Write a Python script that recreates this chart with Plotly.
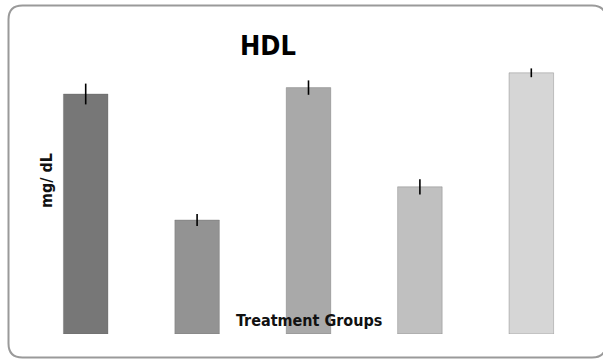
import plotly.graph_objects as go

groups = ["Group 1", "Group 2", "Group 3", "Group 4", "Group 5"]
hdl_values = [60.0, 28.5, 61.6, 36.8, 65.3]
hdl_errors = [2.6, 1.5, 1.8, 1.9, 1.1]
bar_colors = ["#777777", "#939393", "#a9a9a9", "#c0c0c0", "#d6d6d6"]

W, H = 603, 360
L, R, T, B = 30, 16, 60, 26
pw, ph = W - L - R, H - T - B

def px(x):
    return (x - L) / pw

def py(y):
    return (H - B - y) / ph

fig = go.Figure()
fig.add_trace(go.Bar(
    x=groups, y=hdl_values,
    marker=dict(color=bar_colors, line=dict(color="rgba(90,90,90,0.3)", width=1)),
    error_y=dict(type="data", array=hdl_errors, color="black", thickness=1.6, width=0),
    width=0.4,
))

# rounded border
x0, x1, y0, y1, r = 8.5, 606, 5.5, 357.5, 14
path = (
    f"M {px(x0+r)},{py(y0)} L {px(x1-r)},{py(y0)} Q {px(x1)},{py(y0)} {px(x1)},{py(y0+r)} "
    f"L {px(x1)},{py(y1-r)} Q {px(x1)},{py(y1)} {px(x1-r)},{py(y1)} "
    f"L {px(x0+r)},{py(y1)} Q {px(x0)},{py(y1)} {px(x0)},{py(y1-r)} "
    f"L {px(x0)},{py(y0+r)} Q {px(x0)},{py(y0)} {px(x0+r)},{py(y0)} Z"
)
fig.add_shape(type="path", path=path, xref="paper", yref="paper",
              line=dict(color="#9a9a9a", width=2), layer="below")

fig.add_annotation(text="<b>Treatment Groups</b>", xref="paper", yref="paper",
                   x=px(309), y=py(320), xanchor="center", yanchor="middle", showarrow=False,
                   font=dict(family="DejaVu Sans Condensed, Liberation Sans", size=16, color="#111111"))
fig.add_annotation(text="<b>mg/ dL</b>", xref="paper", yref="paper",
                   x=px(46), y=py(181), xanchor="center", yanchor="middle", showarrow=False, textangle=-90,
                   font=dict(family="DejaVu Sans Condensed, Liberation Sans", size=16, color="#111111"))
fig.add_annotation(text="<b>HDL</b>", xref="paper", yref="paper",
                   x=px(268), y=py(45), xanchor="center", yanchor="middle", showarrow=False,
                   font=dict(family="DejaVu Sans Condensed, Liberation Sans", size=27, color="black"))

fig.update_layout(
    width=W, height=H,
    margin=dict(l=L, r=R, t=T, b=B, pad=0),
    paper_bgcolor="white", plot_bgcolor="white",
    xaxis=dict(showticklabels=False, showgrid=False, zeroline=False, showline=False, ticks=""),
    yaxis=dict(range=[0, 68.5], showticklabels=False, showgrid=False, zeroline=False, showline=False, ticks=""),
    showlegend=False,
)

fig.write_html("out.html", config={"displayModeBar": False},
               post_script="document.body.style.margin='0';document.body.style.overflow='hidden';")
